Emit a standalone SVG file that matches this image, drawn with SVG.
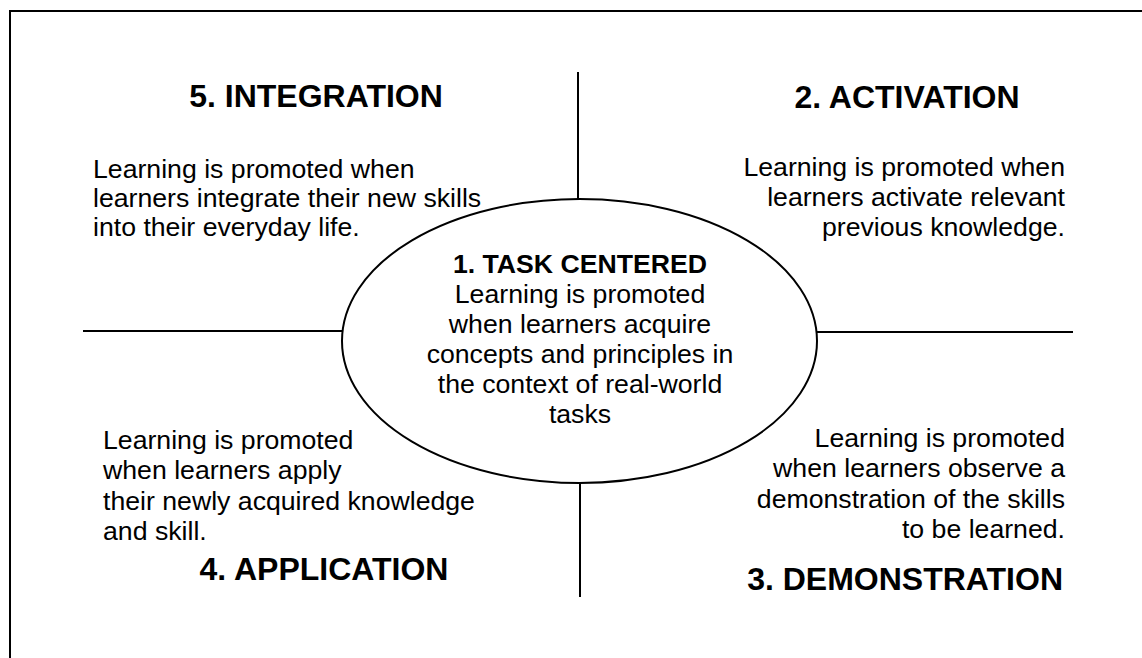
<svg xmlns="http://www.w3.org/2000/svg" width="1142" height="658" viewBox="0 0 1142 658">
<style>
.ln{stroke:#000;stroke-width:2;fill:none}
.h{font-family:"Liberation Sans",Arial,sans-serif;font-weight:bold;font-size:32px;fill:#000}
.hc{font-family:"Liberation Sans",Arial,sans-serif;font-weight:bold;font-size:26.67px;fill:#000}
.b{font-family:"Liberation Sans",Arial,sans-serif;font-size:26.67px;fill:#000}
</style>
<rect width="1142" height="658" fill="#fff"/>
<g id="frame">
<path class="ln" d="M10,658 V11 H1142"/>
</g>
<g id="connectors">
<line class="ln" x1="578" y1="72" x2="578" y2="199"/>
<line class="ln" x1="580" y1="483" x2="580" y2="597"/>
<line class="ln" x1="83" y1="331" x2="342" y2="331"/>
<line class="ln" x1="817" y1="332" x2="1073" y2="332"/>
</g>
<g id="task-centered">
<ellipse class="ln" cx="579.5" cy="341" rx="237.5" ry="142"/>
<text class="hc" x="580" y="273" text-anchor="middle">1. TASK CENTERED</text>
<text class="b" text-anchor="middle"><tspan x="580" y="303">Learning is promoted</tspan><tspan x="580" y="333">when learners acquire</tspan><tspan x="580" y="363">concepts and principles in</tspan><tspan x="580" y="393">the context of real-world</tspan><tspan x="580" y="423">tasks</tspan></text>
</g>
<g id="integration">
<text class="h" x="316" y="107" text-anchor="middle">5. INTEGRATION</text>
<text class="b"><tspan x="93" y="178">Learning is promoted when</tspan><tspan x="93" y="207">learners integrate their new skills</tspan><tspan x="93" y="236">into their everyday life.</tspan></text>
</g>
<g id="activation">
<text class="h" x="907" y="108" text-anchor="middle">2. ACTIVATION</text>
<text class="b" text-anchor="end"><tspan x="1065" y="176">Learning is promoted when</tspan><tspan x="1065" y="206">learners activate relevant</tspan><tspan x="1065" y="236">previous knowledge.</tspan></text>
</g>
<g id="application">
<text class="b"><tspan x="103" y="449">Learning is promoted</tspan><tspan x="103" y="479">when learners apply</tspan><tspan x="103" y="510">their newly acquired knowledge</tspan><tspan x="103" y="540">and skill.</tspan></text>
<text class="h" x="324" y="580" text-anchor="middle">4. APPLICATION</text>
</g>
<g id="demonstration">
<text class="b" text-anchor="end"><tspan x="1065" y="447">Learning is promoted</tspan><tspan x="1065" y="477">when learners observe a</tspan><tspan x="1065" y="508">demonstration of the skills</tspan><tspan x="1065" y="538">to be learned.</tspan></text>
<text class="h" x="1063" y="590" text-anchor="end">3. DEMONSTRATION</text>
</g>
</svg>
